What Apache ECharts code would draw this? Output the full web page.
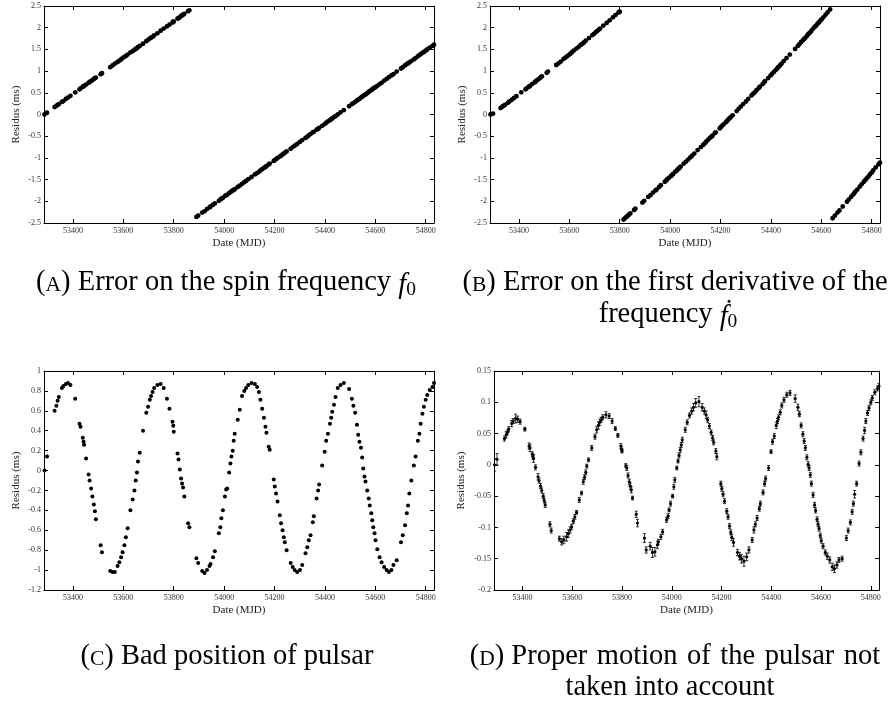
<!DOCTYPE html>
<html>
<head>
<meta charset="utf-8">
<script src="https://cdn.jsdelivr.net/npm/echarts@6/dist/echarts.min.js"></script>
<style>
  html, body { margin: 0; padding: 0; background: #fff; }
  #chart { width: 893px; height: 704px; }
</style>
</head>
<body>
<div id="chart"></div>
<script>
// observation dates (MJD), shared by the four panels
const mjd = [
  53287,53297,53327,53334,53339,53344,53356,53362,53372,53380,
  53390,53409,53426,53430,53439,53442,53444,53452,53462,53466,
  53472,53477,53483,53487,53491,53510,53515,53548,53557,53566,
  53577,53584,53591,53597,53604,53610,53617,53628,53637,53644,
  53649,53654,53658,53665,53678,53691,53698,53705,53710,53716,
  53722,53735,53748,53760,53773,53783,53795,53798,53800,53815,
  53819,53824,53829,53833,53837,53842,53857,53862,53890,53897,
  53913,53922,53932,53942,53946,53956,53963,53979,53985,53989,
  53995,54003,54008,54012,54020,54025,54029,54034,54038,54042,
  54054,54062,54071,54080,54087,54096,54109,54122,54131,54138,
  54144,54151,54158,54164,54168,54177,54181,54197,54201,54206,
  54212,54221,54226,54232,54237,54241,54248,54264,54272,54280,
  54290,54301,54310,54323,54330,54336,54343,54352,54356,54367,
  54373,54377,54389,54399,54405,54412,54420,54425,54429,54436,
  54442,54451,54462,54475,54496,54507,54513,54520,54527,54532,
  54537,54543,54548,54552,54557,54561,54568,54574,54578,54584,
  54588,54592,54597,54601,54608,54617,54625,54635,54645,54654,
  54664,54672,54685,54702,54709,54718,54725,54730,54735,54743,
  54753,54760,54769,54775,54780,54787,54793,54800,54806,54816,
  54827,54833
];

// (A) error on f0 (ms)
const resA = [
  0.00,0.04,0.17,0.20,0.22,0.24,0.29,0.31,0.36,0.39,
  0.43,0.51,0.58,0.60,0.64,0.65,0.66,0.69,0.73,0.75,
  0.77,0.79,0.82,0.84,0.85,0.93,0.95,1.09,1.13,1.17,
  1.21,1.24,1.27,1.30,1.33,1.35,1.38,1.43,1.46,1.49,
  1.51,1.53,1.55,1.58,1.63,1.69,1.72,1.75,1.77,1.79,
  1.82,1.87,1.93,1.98,2.03,2.07,2.12,2.14,2.14,2.21,
  2.22,2.24,2.27,2.28,2.30,2.32,2.38,2.40,-2.36,-2.33,
  -2.26,-2.23,-2.18,-2.14,-2.12,-2.08,-2.05,-1.99,-1.96,-1.94,
  -1.92,-1.88,-1.86,-1.85,-1.81,-1.79,-1.77,-1.75,-1.74,-1.72,
  -1.67,-1.64,-1.60,-1.56,-1.53,-1.49,-1.44,-1.38,-1.35,-1.32,
  -1.29,-1.26,-1.23,-1.21,-1.19,-1.15,-1.13,-1.07,-1.05,-1.03,
  -1.00,-0.97,-0.95,-0.92,-0.90,-0.88,-0.85,-0.79,-0.75,-0.72,
  -0.68,-0.63,-0.59,-0.54,-0.51,-0.48,-0.45,-0.41,-0.40,-0.35,
  -0.33,-0.31,-0.26,-0.22,-0.19,-0.16,-0.13,-0.11,-0.09,-0.06,
  -0.04,0.00,0.05,0.10,0.19,0.24,0.26,0.29,0.32,0.34,
  0.36,0.39,0.41,0.43,0.45,0.46,0.49,0.52,0.54,0.56,
  0.58,0.60,0.62,0.63,0.66,0.70,0.73,0.78,0.82,0.86,
  0.90,0.93,0.99,1.06,1.09,1.13,1.16,1.18,1.20,1.23,
  1.27,1.30,1.34,1.37,1.39,1.42,1.44,1.47,1.50,1.54,
  1.58,1.61
];

// (B) error on the first derivative (ms)
const resB = [
  0.00,0.02,0.15,0.18,0.20,0.22,0.27,0.30,0.34,0.38,
  0.42,0.51,0.58,0.60,0.64,0.65,0.66,0.70,0.74,0.76,
  0.79,0.81,0.84,0.86,0.88,0.96,0.99,1.14,1.18,1.22,
  1.28,1.31,1.34,1.37,1.40,1.43,1.47,1.52,1.56,1.60,
  1.62,1.64,1.66,1.70,1.76,1.83,1.86,1.90,1.92,1.95,
  1.98,2.05,2.11,2.17,2.24,2.29,2.35,2.36,2.37,-2.42,
  -2.40,-2.37,-2.35,-2.33,-2.30,-2.28,-2.20,-2.17,-2.03,-1.99,
  -1.90,-1.86,-1.80,-1.75,-1.73,-1.67,-1.63,-1.55,-1.52,-1.49,
  -1.46,-1.42,-1.39,-1.37,-1.32,-1.30,-1.27,-1.25,-1.22,-1.20,
  -1.13,-1.09,-1.04,-0.99,-0.95,-0.90,-0.82,-0.75,-0.70,-0.66,
  -0.62,-0.58,-0.54,-0.51,-0.49,-0.43,-0.41,-0.32,-0.29,-0.26,
  -0.23,-0.18,-0.15,-0.11,-0.08,-0.06,-0.02,0.08,0.13,0.18,
  0.24,0.30,0.36,0.44,0.48,0.51,0.56,0.61,0.64,0.70,
  0.74,0.77,0.84,0.90,0.94,0.98,1.03,1.06,1.09,1.13,
  1.17,1.23,1.30,1.38,1.51,1.58,1.62,1.67,1.71,1.74,
  1.77,1.81,1.85,1.87,1.90,1.93,1.98,2.02,2.04,2.08,
  2.11,2.13,2.17,2.19,2.24,2.30,2.35,2.42,-2.39,-2.33,
  -2.26,-2.21,-2.12,-2.01,-1.96,-1.90,-1.85,-1.82,-1.78,-1.73,
  -1.66,-1.61,-1.55,-1.51,-1.47,-1.43,-1.38,-1.34,-1.29,-1.22,
  -1.15,-1.11
];

// (C) bad position (ms)
const resC = [
  0.00,0.14,0.60,0.65,0.70,0.74,0.83,0.85,0.87,0.88,
  0.86,0.72,0.47,0.44,0.33,0.29,0.26,0.12,-0.04,-0.10,
  -0.18,-0.26,-0.34,-0.41,-0.49,-0.75,-0.82,-1.01,-1.02,-1.02,
  -0.96,-0.92,-0.87,-0.82,-0.75,-0.67,-0.58,-0.40,-0.29,-0.20,
  -0.10,-0.02,0.09,0.18,0.40,0.58,0.64,0.71,0.75,0.79,
  0.83,0.86,0.87,0.83,0.72,0.62,0.49,0.45,0.39,0.17,
  0.11,0.01,-0.08,-0.13,-0.17,-0.26,-0.53,-0.57,-0.88,-0.93,
  -1.01,-1.03,-1.00,-0.96,-0.94,-0.87,-0.81,-0.63,-0.57,-0.48,
  -0.40,-0.26,-0.19,-0.18,-0.02,0.07,0.14,0.20,0.30,0.37,
  0.51,0.61,0.75,0.80,0.83,0.86,0.88,0.87,0.84,0.79,
  0.71,0.62,0.53,0.44,0.38,0.24,0.21,-0.09,-0.16,-0.23,
  -0.31,-0.45,-0.53,-0.60,-0.67,-0.72,-0.80,-0.93,-0.97,-1.00,
  -1.02,-1.00,-0.95,-0.83,-0.77,-0.70,-0.65,-0.52,-0.46,-0.28,
  -0.20,-0.14,0.05,0.19,0.30,0.37,0.47,0.53,0.59,0.66,
  0.74,0.83,0.86,0.88,0.82,0.72,0.65,0.58,0.46,0.36,
  0.29,0.23,0.13,0.02,-0.06,-0.11,-0.20,-0.28,-0.35,-0.43,
  -0.50,-0.57,-0.63,-0.70,-0.79,-0.87,-0.92,-0.97,-1.00,-1.02,
  -1.00,-0.95,-0.90,-0.72,-0.65,-0.55,-0.43,-0.35,-0.23,-0.10,
  0.05,0.14,0.30,0.37,0.47,0.57,0.64,0.71,0.76,0.81,
  0.84,0.88
];

// (D) proper motion not taken into account (ms)
const resD = [
  0.000,0.009,0.042,0.048,0.052,0.057,0.066,0.070,0.074,0.073,
  0.069,0.057,0.030,0.027,0.017,0.013,0.010,-0.004,-0.019,-0.025,
  -0.034,-0.041,-0.050,-0.057,-0.064,-0.095,-0.105,-0.118,-0.123,-0.120,
  -0.115,-0.110,-0.104,-0.099,-0.090,-0.083,-0.076,-0.056,-0.045,-0.027,
  -0.020,-0.012,-0.002,0.008,0.027,0.045,0.056,0.063,0.068,0.072,
  0.076,0.080,0.078,0.070,0.058,0.047,0.030,0.025,0.022,-0.001,
  -0.005,-0.017,-0.027,-0.034,-0.040,-0.053,-0.079,-0.093,-0.117,-0.136,
  -0.130,-0.140,-0.139,-0.128,-0.123,-0.115,-0.107,-0.088,-0.082,-0.072,
  -0.062,-0.050,-0.035,-0.024,-0.005,0.006,0.015,0.024,0.032,0.040,
  0.056,0.068,0.079,0.086,0.092,0.099,0.101,0.092,0.086,0.080,
  0.072,0.062,0.052,0.043,0.036,0.022,0.013,-0.030,-0.038,-0.047,
  -0.058,-0.074,-0.083,-0.098,-0.108,-0.116,-0.124,-0.140,-0.146,-0.150,
  -0.154,-0.147,-0.136,-0.120,-0.104,-0.095,-0.085,-0.070,-0.062,-0.044,
  -0.030,-0.022,-0.005,0.021,0.037,0.046,0.063,0.070,0.076,0.084,
  0.095,0.104,0.112,0.115,0.106,0.092,0.081,0.063,0.049,0.038,
  0.027,0.012,0.001,-0.005,-0.016,-0.030,-0.048,-0.064,-0.073,-0.087,
  -0.095,-0.102,-0.113,-0.121,-0.130,-0.140,-0.146,-0.152,-0.163,-0.166,
  -0.160,-0.152,-0.150,-0.117,-0.105,-0.092,-0.075,-0.062,-0.047,-0.030,
  0.002,0.020,0.042,0.055,0.070,0.083,0.091,0.100,0.107,0.116,
  0.122,0.126
];

// (D) error bars, half length (ms)
const errD = [
  0.010,0.009,0.004,0.005,0.004,0.004,0.005,0.004,0.007,0.005,
  0.004,0.003,0.005,0.006,0.004,0.004,0.006,0.004,0.005,0.004,
  0.004,0.004,0.004,0.004,0.004,0.004,0.004,0.004,0.005,0.006,
  0.007,0.006,0.005,0.004,0.004,0.004,0.003,0.004,0.003,0.004,
  0.004,0.004,0.003,0.003,0.004,0.004,0.005,0.006,0.005,0.004,
  0.004,0.005,0.004,0.004,0.003,0.003,0.004,0.004,0.003,0.003,
  0.004,0.004,0.004,0.005,0.005,0.003,0.005,0.006,0.007,0.005,
  0.006,0.008,0.007,0.006,0.004,0.004,0.004,0.004,0.004,0.003,
  0.004,0.003,0.004,0.004,0.003,0.003,0.004,0.004,0.004,0.004,
  0.004,0.004,0.004,0.005,0.006,0.007,0.008,0.006,0.005,0.006,
  0.004,0.004,0.004,0.004,0.004,0.004,0.005,0.004,0.004,0.004,
  0.004,0.004,0.004,0.004,0.004,0.005,0.006,0.005,0.006,0.007,
  0.008,0.006,0.005,0.004,0.005,0.004,0.004,0.004,0.004,0.004,
  0.004,0.004,0.004,0.003,0.004,0.004,0.005,0.004,0.004,0.004,
  0.004,0.004,0.004,0.004,0.006,0.005,0.004,0.004,0.004,0.004,
  0.004,0.004,0.004,0.004,0.004,0.004,0.004,0.004,0.004,0.004,
  0.004,0.004,0.004,0.004,0.004,0.004,0.005,0.005,0.006,0.006,
  0.005,0.004,0.004,0.004,0.004,0.004,0.004,0.004,0.006,0.004,
  0.004,0.004,0.004,0.005,0.004,0.004,0.004,0.004,0.004,0.004,
  0.004,0.004
];

// date tick labels
const xTicks = [53400, 53600, 53800, 54000, 54200, 54400, 54600, 54800];

const FONT = "'Liberation Serif', 'DejaVu Serif', serif";
const X_MIN = 53285;
const X_MAX = 54833;

// one box per panel
const grids = [
  { left: 44, top: 6, width: 390, height: 217 },
  { left: 490, top: 6, width: 390, height: 217 },
  { left: 44, top: 371, width: 390, height: 219 },
  { left: 494, top: 371, width: 385, height: 219 }
];
const yRanges = [
  { min: -2.5, max: 2.5, interval: 0.5, gap: 22 },
  { min: -2.5, max: 2.5, interval: 0.5, gap: 22 },
  { min: -1.2, max: 1, interval: 0.2, gap: 22 },
  { min: -0.2, max: 0.15, interval: 0.05, gap: 27 }
];

const lineStyle = { color: '#000', width: 1 };

const makeX = (g, top) => ({
  type: 'value',
  gridIndex: g,
  position: top ? 'top' : 'bottom',
  min: X_MIN,
  max: X_MAX,
  axisLine: { show: true, onZero: false, lineStyle },
  axisTick: { show: true, inside: true, length: 4, customValues: xTicks, lineStyle },
  axisLabel: top ? { show: false } : {
    customValues: xTicks, fontSize: 8, color: '#333', margin: 4, fontFamily: FONT,
    formatter: (v) => String(v)
  },
  splitLine: { show: false },
  name: top ? '' : 'Date (MJD)',
  nameLocation: 'middle',
  nameGap: 15,
  nameTextStyle: { fontSize: 11, color: '#222', fontFamily: FONT }
});

const makeY = (g, right) => ({
  type: 'value',
  gridIndex: g,
  position: right ? 'right' : 'left',
  min: yRanges[g].min,
  max: yRanges[g].max,
  interval: yRanges[g].interval,
  axisLine: { show: true, onZero: false, lineStyle },
  axisTick: { show: true, inside: true, length: 4, lineStyle },
  axisLabel: right ? { show: false } : {
    fontSize: 8, color: '#333', margin: 3, fontFamily: FONT
  },
  splitLine: { show: false },
  name: right ? '' : 'Residus (ms)',
  nameLocation: 'middle',
  nameGap: yRanges[g].gap,
  nameTextStyle: { fontSize: 11, color: '#222', fontFamily: FONT }
});

const xAxes = [];
const yAxes = [];
grids.forEach((_, g) => {
  xAxes.push(makeX(g, false), makeX(g, true));
  yAxes.push(makeY(g, false), makeY(g, true));
});

const pairs = (vals) => mjd.map((d, i) => [d, vals[i]]);

const dots = (g, vals, size) => ({
  type: 'scatter',
  xAxisIndex: 2 * g,
  yAxisIndex: 2 * g,
  symbol: 'circle',
  symbolSize: size,
  itemStyle: { color: '#000', opacity: 1 },
  clip: true,
  silent: true,
  data: pairs(vals)
});

// error bars for panel D
const errorBars = {
  type: 'custom',
  xAxisIndex: 6,
  yAxisIndex: 6,
  clip: true,
  silent: true,
  data: mjd.map((d, i) => [d, resD[i] - errD[i], resD[i] + errD[i]]),
  encode: { x: 0, y: [1, 2] },
  renderItem: (params, api) => {
    const lo = api.coord([api.value(0), api.value(1)]);
    const hi = api.coord([api.value(0), api.value(2)]);
    const w = 1.5;
    const st = { stroke: '#000', lineWidth: 0.8 };
    return {
      type: 'group',
      children: [
        { type: 'line', shape: { x1: lo[0], y1: lo[1], x2: hi[0], y2: hi[1] }, style: st },
        { type: 'line', shape: { x1: lo[0] - w, y1: lo[1], x2: lo[0] + w, y2: lo[1] }, style: st },
        { type: 'line', shape: { x1: hi[0] - w, y1: hi[1], x2: hi[0] + w, y2: hi[1] }, style: st }
      ]
    };
  }
};

// sub-figure captions (small caps letter, italic f with subscript)
const capRich = {
  sc: { fontSize: 21.5, fontFamily: FONT, lineHeight: 34, verticalAlign: 'bottom', padding: [0, 0, 4, 0] },
  it: { fontSize: 28.5, fontFamily: FONT, fontStyle: 'italic', lineHeight: 34, verticalAlign: 'bottom' },
  sub: { fontSize: 19.5, fontFamily: FONT, lineHeight: 22, verticalAlign: 'bottom' }
};
const caption = (x, y, text) => ({
  type: 'text',
  x: x,
  y: y,
  silent: true,
  style: {
    text: text,
    rich: capRich,
    fontSize: 28.5,
    lineHeight: 34,
    fontFamily: FONT,
    fill: '#000',
    align: 'center',
    verticalAlign: 'middle'
  }
});

const chart = echarts.init(document.getElementById('chart'));
chart.setOption({
  animation: false,
  backgroundColor: '#fff',
  grid: grids.map(g => Object.assign({ outerBoundsMode: 'none' }, g)),
  xAxis: xAxes,
  yAxis: yAxes,
  series: [
    dots(0, resA, 4.8),
    dots(1, resB, 4.8),
    dots(2, resC, 4),
    errorBars,
    dots(3, resD, 3.2)
  ],
  graphic: [
    caption(226, 283, '({sc|A}) Error on the spin frequency {it|f}{sub|0}'),
    caption(675, 283, '({sc|B}) Error on the first derivative of the'),
    caption(668, 315, 'frequency {it|ḟ}{sub|0}'),
    caption(227, 657, '({sc|C}) Bad position of pulsar'),
    caption(675, 657, '({sc|D}) Proper \u200Amotion \u200Aof \u200Athe \u200Apulsar \u200Anot'),
    caption(670, 688, 'taken into account')
  ]
});
</script>
</body>
</html>
